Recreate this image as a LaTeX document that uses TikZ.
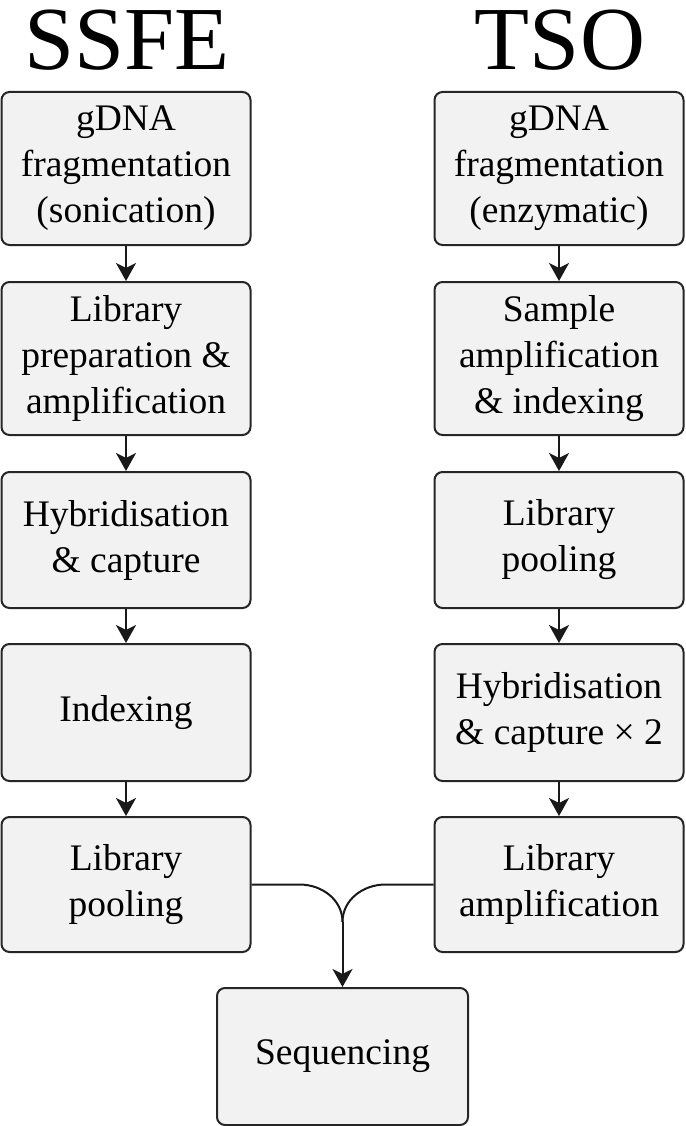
\documentclass[tikz,border=0pt]{standalone}
\usepackage{fontspec}
\setmainfont{Liberation Serif}
\usetikzlibrary{positioning,arrows.meta}
\tikzset{>={Stealth[length=18pt,width=20pt,inset=5pt]}}
\tikzset{
  stage/.style={draw=black!85,fill=black!5,line width=2pt,rounded corners=8pt,
    align=center,inner sep=0pt,minimum width=249pt,
    font=\fontsize{37.5}{46}\selectfont},
  title/.style={font=\fontsize{90}{90}\selectfont,inner sep=0pt,anchor=base,
    text height=62pt,text depth=0pt},
  flow/.style={->,draw=black!90,line width=2pt}
}

\begin{document}
\begin{tikzpicture}[x=1pt,y=-1pt]
\useasboundingbox (0,0) rectangle (685,1126);

\node[title] (ssfe) at(127,70){SSFE};
\node[title] (tso) at(560,70){TSO};

% SSFE column
\node[stage,minimum height=153pt] (s1) at(126,168.5){gDNA\\fragmentation\\(sonication)};
\node[stage,minimum height=153pt] (s2) at(126,358.5){Library\\preparation \&\\amplification};
\node[stage,minimum height=136pt] (s3) at(126,540){Hybridisation\\\& capture};
\node[stage,minimum height=137pt] (s4) at(126,712.5){Indexing};
\node[stage,minimum height=135pt] (s5) at(126,884.5){Library\\pooling};

% TSO column
\node[stage,minimum height=153pt] (t1) at(559,168.5){gDNA\\fragmentation\\(enzymatic)};
\node[stage,minimum height=153pt] (t2) at(559,358.5){Sample\\amplification\\\& indexing};
\node[stage,minimum height=136pt] (t3) at(559,540){Library\\pooling};
\node[stage,minimum height=137pt] (t4) at(559,712.5){Hybridisation\\\& capture × 2};
\node[stage,minimum height=135pt] (t5) at(559,884.5){Library\\amplification};

\node[stage,minimum width=251pt,minimum height=137pt] (seq) at(342.5,1056.5){Sequencing};
\coordinate (merge) at(342.5,922);

\draw[flow] (s1) --(s2);
\draw[flow] (s2) --(s3);
\draw[flow] (s3) --(s4);
\draw[flow] (s4) --(s5);
\draw[flow] (t1) --(t2);
\draw[flow] (t2) --(t3);
\draw[flow] (t3) --(t4);
\draw[flow] (t4) --(t5);

\draw[flow,-] (s5.east) -- ++(48,0) to[out=0,in=90] (merge);
\draw[flow,-] (t5.west) -- ++(-48,0) to[out=180,in=90] (merge);
\draw[flow] (merge) --(seq);

\end{tikzpicture}
\end{document}
